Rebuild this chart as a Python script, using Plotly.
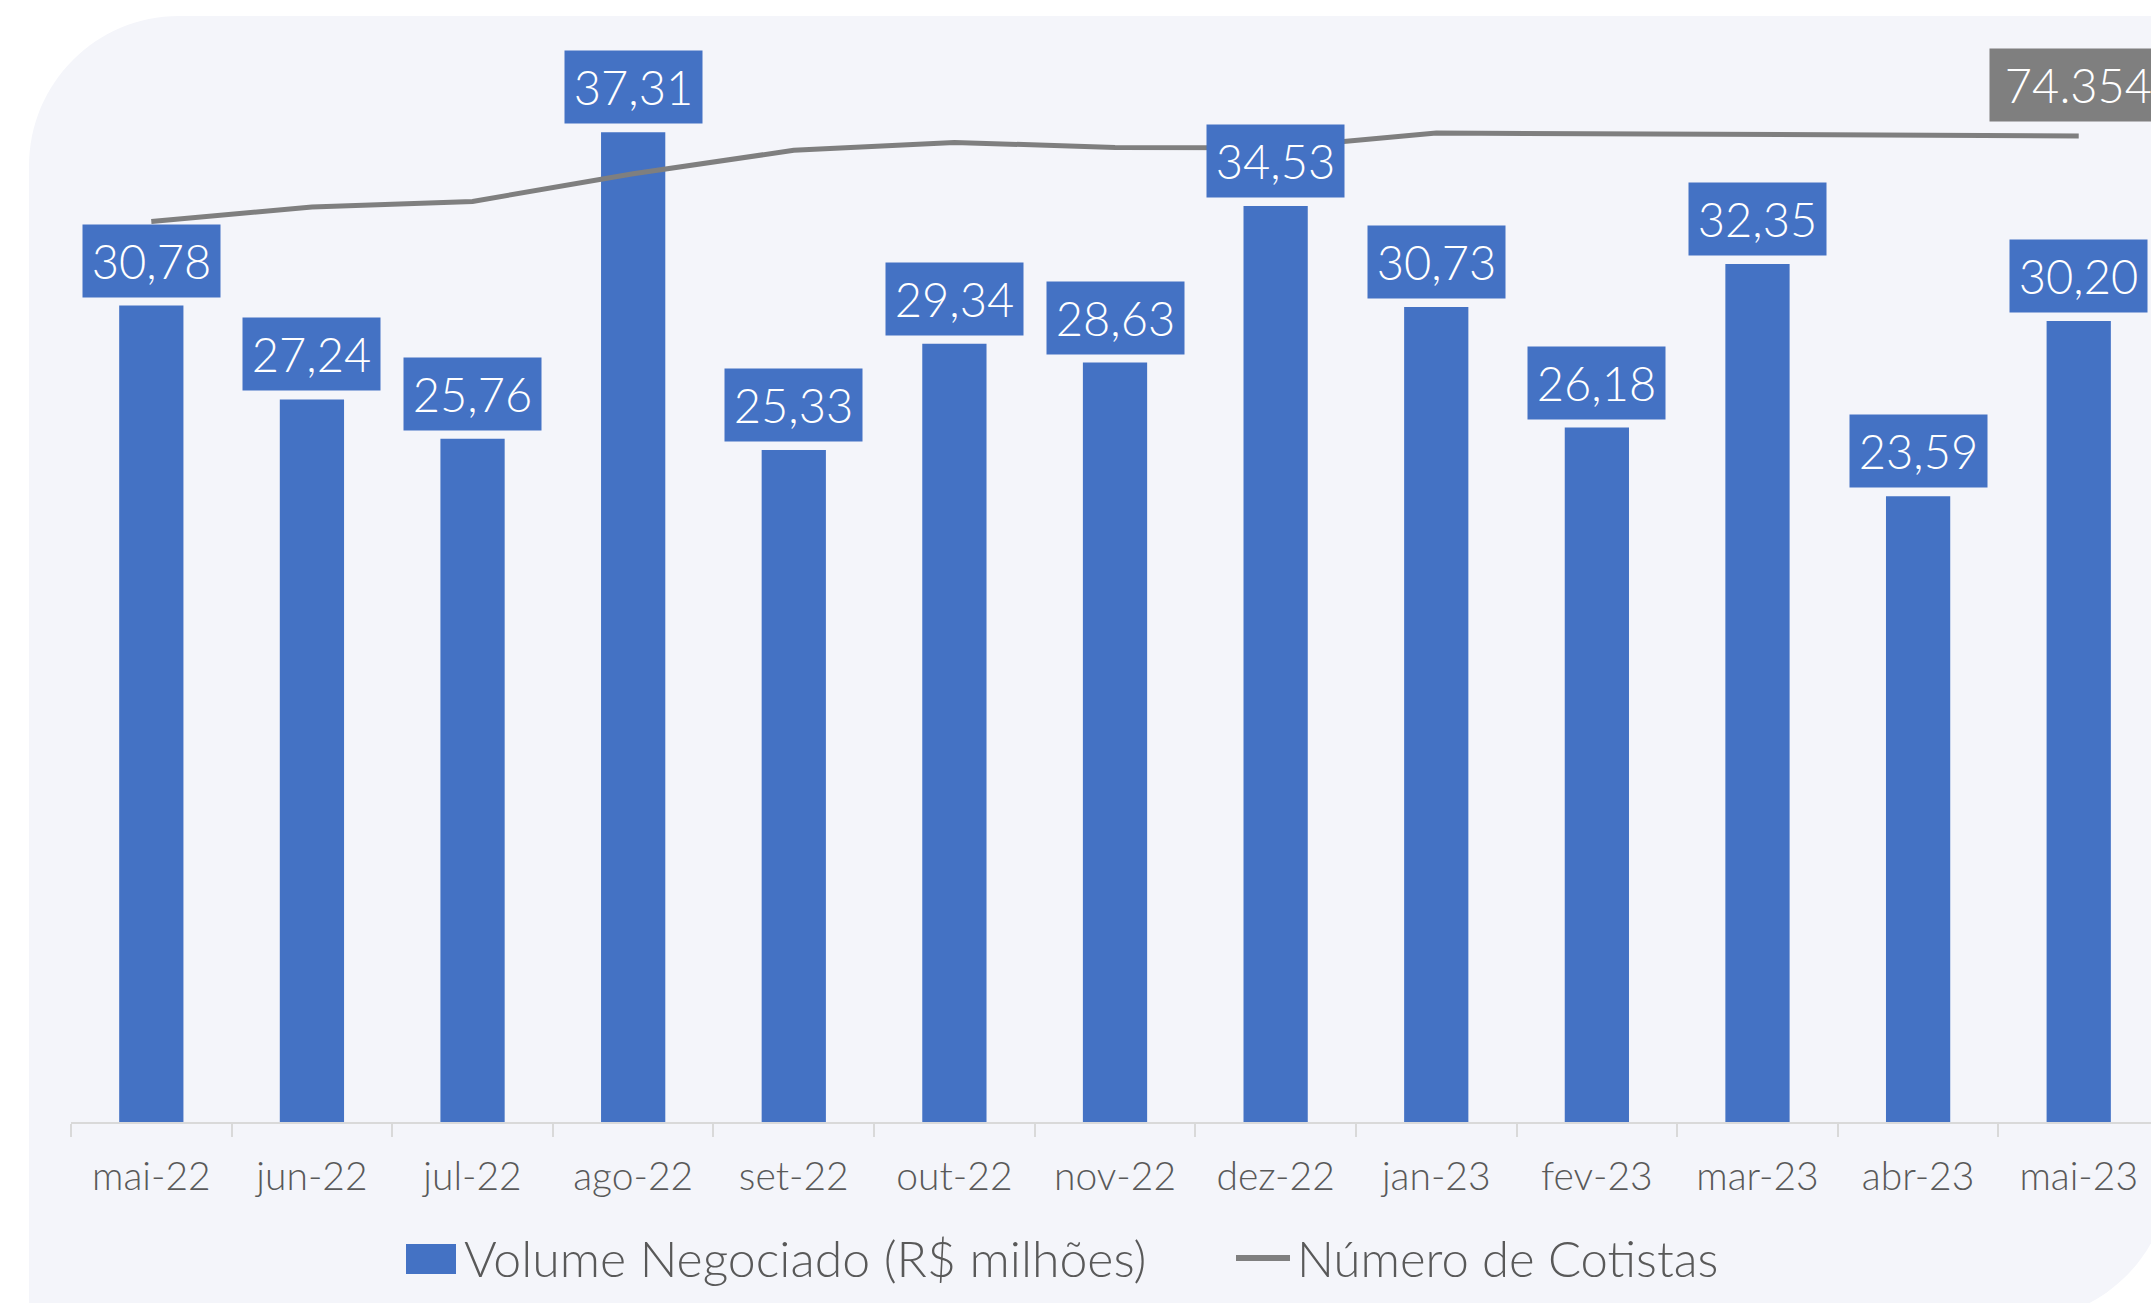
import plotly.graph_objects as go

# ---------------- data ----------------
meses = ["mai-22", "jun-22", "jul-22", "ago-22", "set-22", "out-22", "nov-22",
         "dez-22", "jan-23", "fev-23", "mar-23", "abr-23", "mai-23"]
volume = [30.78, 27.24, 25.76, 37.31, 25.33, 29.34, 28.63,
          34.53, 30.73, 26.18, 32.35, 23.59, 30.20]
cotistas = [67900, 68990, 69410, 71500, 73270, 73860, 73480,
            73460, 74570, 74520, 74450, 74400, 74354]
serie_barras = "Volume Negociado (R$ milhões)"
serie_linha = "Número de Cotistas"

# ---------------- layout constants (pixels) ----------------
W, H = 2151, 1303
ML, MR, MT, MB = 71, 0, 61, 181
PW, PH = W - ML - MR, H - MT - MB

BLUE = "#4472C4"
GREY = "#7F7F7F"
TXT = "#595959"
PANEL = "#F4F5FA"
FONT = "Lato"


def px(xp):
    return (xp - ML) / PW


def py(yp):
    return (H - MB - yp) / PH


def panel_path(x0, y0, x1, y1, r):
    """Rectangle with rounded top-left and bottom-right corners."""
    k = 0.5523 * r
    pts = [
        f"M {px(x0 + r)},{py(y0)}",
        f"L {px(x1)},{py(y0)}",
        f"L {px(x1)},{py(y1 - r)}",
        f"C {px(x1)},{py(y1 - r + k)} {px(x1 - r + k)},{py(y1)} {px(x1 - r)},{py(y1)}",
        f"L {px(x0)},{py(y1)}",
        f"L {px(x0)},{py(y0 + r)}",
        f"C {px(x0)},{py(y0 + r - k)} {px(x0 + r - k)},{py(y0)} {px(x0 + r)},{py(y0)}",
        "Z",
    ]
    return " ".join(pts)


fig = go.Figure()

fig.add_trace(go.Bar(
    x=meses, y=volume, name=serie_barras,
    marker=dict(color=BLUE, line=dict(width=0)),
    width=0.4, yaxis="y", showlegend=False,
))
fig.add_trace(go.Scatter(
    x=meses, y=cotistas, name=serie_linha, mode="lines",
    line=dict(color=GREY, width=5), yaxis="y2", showlegend=False,
))

annotations = []
for m, v in zip(meses, volume):
    annotations.append(dict(
        x=m, y=v, xref="x", yref="y", text=f"{v:.2f}".replace(".", ","),
        showarrow=False, xanchor="center", yanchor="bottom", yshift=8,
        bgcolor=BLUE, borderpad=6, width=125, height=60,
        font=dict(family=FONT, size=47, color="white", weight=300),
    ))
last = cotistas[-1]
annotations.append(dict(
    x=meses[-1], y=last, xref="x", yref="y2",
    text=f"{last:,}".replace(",", "."),
    showarrow=False, xanchor="center", yanchor="bottom", yshift=14,
    bgcolor=GREY, borderpad=6, width=165, height=60,
    font=dict(family=FONT, size=47, color="white", weight=300),
))

# manual legend
annotations.append(dict(
    x=px(462), y=py(1258), xref="paper", yref="paper", text=serie_barras,
    showarrow=False, xanchor="left", yanchor="middle",
    font=dict(family=FONT, size=50, color=TXT, weight=300),
))
annotations.append(dict(
    x=px(1295), y=py(1258), xref="paper", yref="paper", text=serie_linha,
    showarrow=False, xanchor="left", yanchor="middle",
    font=dict(family=FONT, size=49, color=TXT, weight=300),
))

shapes = [
    dict(type="path", xref="paper", yref="paper", path=panel_path(29, 16, 2170, 1320, 150),
         fillcolor=PANEL, line=dict(width=0), layer="below"),
    dict(type="rect", xref="paper", yref="paper", x0=px(406), x1=px(456), y0=py(1274), y1=py(1244),
         fillcolor=BLUE, line=dict(width=0)),
    dict(type="line", xref="paper", yref="paper", x0=px(1236), x1=px(1290), y0=py(1258), y1=py(1258),
         line=dict(color=GREY, width=6)),
]

fig.update_layout(
    width=W, height=H,
    margin=dict(l=ML, r=MR, t=MT, b=MB, pad=0),
    paper_bgcolor="white", plot_bgcolor="rgba(0,0,0,0)",
    bargap=0.6,
    showlegend=False,
    xaxis=dict(
        type="category", range=[-0.5, 12.45],
        showline=True, linecolor="#D9D9D9", linewidth=2,
        ticks="outside", tickson="boundaries", ticklen=13, tickcolor="#D9D9D9", tickwidth=2,
        ticklabelstandoff=19,
        tickfont=dict(family=FONT, size=39, color=TXT, weight=300),
        showgrid=False, zeroline=False, fixedrange=True,
    ),
    yaxis=dict(range=[0, 40], visible=False, showgrid=False, zeroline=False),
    yaxis2=dict(range=[0, 80000], overlaying="y", side="right", visible=False,
                showgrid=False, zeroline=False),
    annotations=annotations,
    shapes=shapes,
)

fig.write_html(
    "out.html",
    config={"displayModeBar": False},
    post_script="document.body.style.margin='0';document.body.style.overflow='hidden';",
)
